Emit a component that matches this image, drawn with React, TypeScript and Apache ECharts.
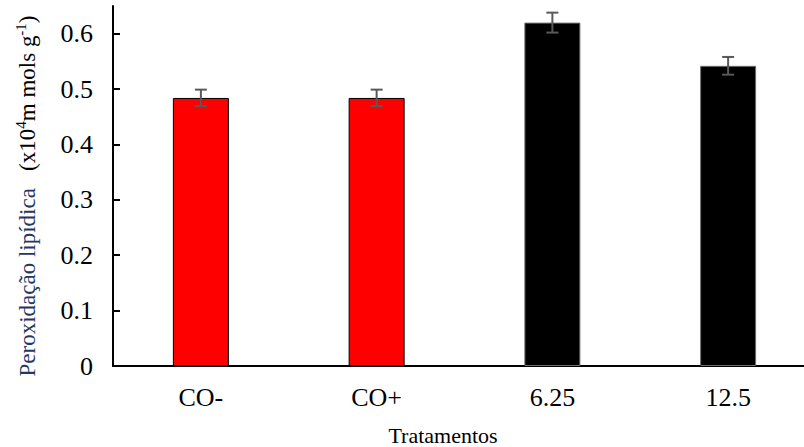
import React, { useEffect, useRef } from "react";
import * as echarts from "echarts";

const categories = ["CO-", "CO+", "6.25", "12.5"];
const values = [0.484, 0.484, 0.62, 0.542];
const errors = [0.015, 0.015, 0.018, 0.016];
const barColors = ["#ff0000", "#ff0000", "#000000", "#000000"];
const borderColors = ["#000000", "#000000", "#6e6e6e", "#6e6e6e"];
const yTicks = [0, 0.1, 0.2, 0.3, 0.4, 0.5, 0.6];
const xTitle = "Tratamentos";

const FONT = "'Liberation Serif', 'Times New Roman', serif";

export default function App() {
  const ref = useRef<HTMLDivElement>(null);
  useEffect(() => {
    document.body.style.margin = "0";
    if (!ref.current) return;
    const chart = echarts.init(ref.current, null, { renderer: "svg" });
    chart.setOption({
      animation: false,
      backgroundColor: "#ffffff",
      textStyle: { fontFamily: FONT },
      grid: {
        left: 113,
        width: 703,
        top: 6,
        bottom: 81,
        containLabel: false,
        outerBoundsMode: "none",
      },
      xAxis: {
        type: "category",
        data: categories,
        axisLine: { lineStyle: { color: "#000", width: 2 } },
        axisTick: { inside: true, length: 5, lineStyle: { color: "#000", width: 1.5 } },
        axisLabel: { color: "#000", fontFamily: FONT, fontSize: 26, margin: 18 },
        splitLine: { show: false },
      },
      yAxis: {
        type: "value",
        min: 0,
        max: 0.65,
        interval: 0.1,
        axisLine: { show: true, lineStyle: { color: "#000", width: 2 } },
        axisTick: {
          show: true,
          inside: true,
          length: 7,
          lineStyle: { color: "#000", width: 2 },
          customValues: yTicks,
        },
        axisLabel: {
          color: "#000",
          fontFamily: FONT,
          fontSize: 26,
          margin: 20,
          customValues: yTicks,
          formatter: (v: number) => (v === 0 ? "0" : v.toFixed(1)),
        },
        splitLine: { show: false },
      },
      series: [
        {
          type: "bar",
          barWidth: 56,
          data: values.map((v, i) => ({
            value: v,
            itemStyle: { color: barColors[i], borderColor: borderColors[i], borderWidth: 1 },
          })),
        },
        {
          type: "custom",
          data: values.map((v, i) => [i, v - errors[i], v + errors[i]]),
          renderItem: (params: any, api: any) => {
            const x = api.value(0);
            const lo = api.coord([x, api.value(1)]);
            const hi = api.coord([x, api.value(2)]);
            const hw = 6;
            const style = { stroke: "#595959", lineWidth: 2 };
            return {
              type: "group",
              children: [
                { type: "line", shape: { x1: lo[0], y1: lo[1], x2: hi[0], y2: hi[1] }, style },
                { type: "line", shape: { x1: hi[0] - hw, y1: hi[1], x2: hi[0] + hw, y2: hi[1] }, style },
                { type: "line", shape: { x1: lo[0] - hw, y1: lo[1], x2: lo[0] + hw, y2: lo[1] }, style },
              ],
            };
          },
          z: 5,
        },
      ],
      graphic: [
        {
          type: "text",
          x: 443,
          y: 435,
          style: {
            text: xTitle,
            fontFamily: FONT,
            fontSize: 22,
            fill: "#000",
            align: "center",
            verticalAlign: "middle",
          },
        },
        {
          type: "text",
          x: 27,
          y: 196,
          rotation: Math.PI / 2,
          style: {
            text: "{a|Peroxidação lipídica}{b|   (x10}{s|4}{b|m mols g}{s|-1}{b|)}",
            fontFamily: FONT,
            fontSize: 23,
            align: "center",
            verticalAlign: "middle",
            rich: {
              a: { fontFamily: FONT, fontSize: 23, fill: "#1f3864", lineHeight: 28 },
              b: { fontFamily: FONT, fontSize: 23, fill: "#000", lineHeight: 28 },
              s: { fontFamily: FONT, fontSize: 15, fill: "#000", lineHeight: 17, verticalAlign: "top" },
            },
          },
        },
      ],
    });
    return () => chart.dispose();
  }, []);
  return <div ref={ref} style={{ width: 804, height: 447 }} />;
}
